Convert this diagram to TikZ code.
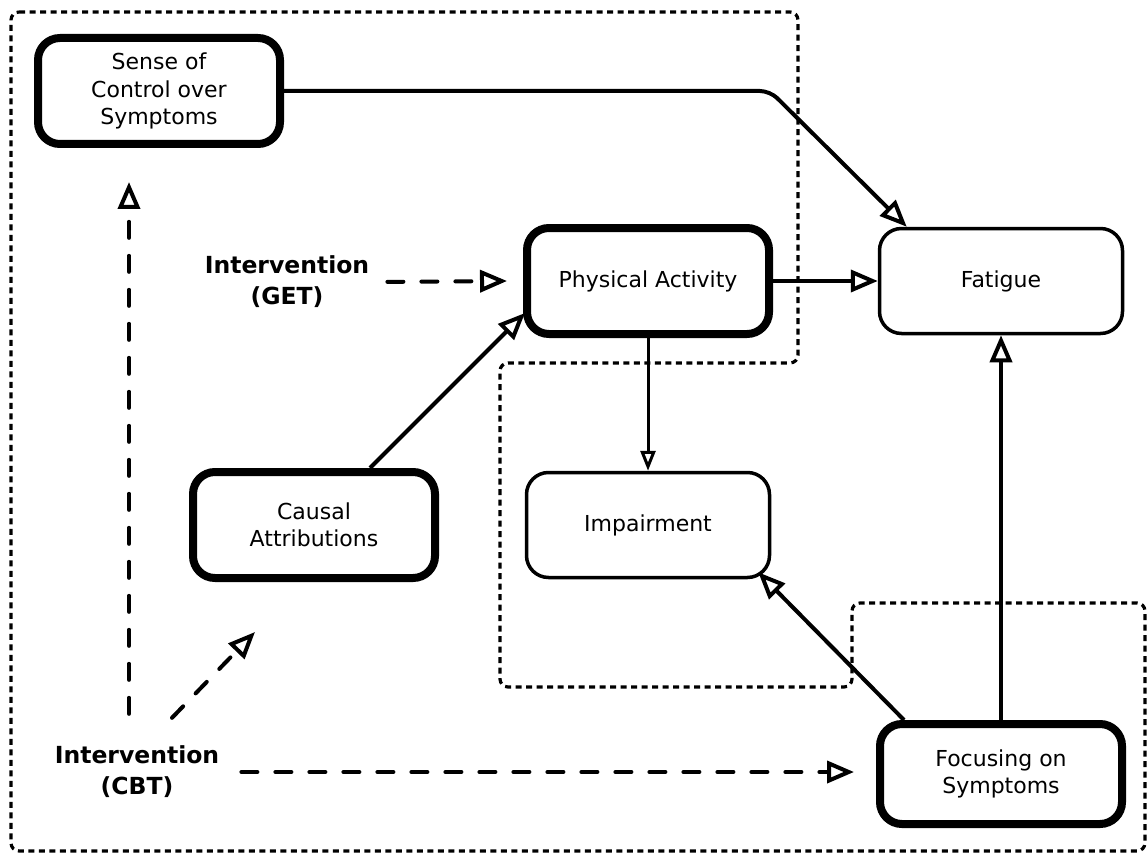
\documentclass[tikz,border=0pt]{standalone}
\usepackage{fontspec}
\setmainfont{DejaVu Sans}
\usetikzlibrary{arrows.meta}

\begin{document}
\begin{tikzpicture}[x=1pt,y=-1pt,
	box/.style={draw,rounded corners=22pt,align=center,inner sep=0pt,minimum width=242pt,minimum height=106pt,font=\fontsize{22}{27.5}\selectfont},
	heavy/.style={box,line width=8pt},
	light/.style={box,line width=3.5pt,minimum width=243pt,minimum height=105pt},
	lab/.style={align=center,inner sep=0pt,font=\bfseries\fontsize{23.5}{31}\selectfont},
	link/.style={line width=4pt,-{Triangle[open,length=27pt,width=22pt]}},
	intv/.style={link,dash pattern=on 16pt off 18pt,line cap=round},
	region/.style={line width=3.2pt,dash pattern=on 6pt off 4.5pt,rounded corners=8pt}]
\useasboundingbox (0,0) rectangle (1148,853);
\draw[region] (11,12)--(798,12)--(798,363)--(500,363)--(500,687)--(852,687)--(852,603)--(1145,603)--(1145,851)--(11,851)--cycle;
\node[heavy] (sc) at (159,91){Sense of\\Control over\\Symptoms};
\node[heavy] (pa) at (648,281){Physical Activity};
\node[light] (fat) at (1001,281){Fatigue};
\node[heavy] (ca) at (314,525){Causal\\Attributions};
\node[light] (imp) at (648,525){Impairment};
\node[heavy,minimum height=100pt] (foc) at (1001,774){Focusing on\\Symptoms};
\node[lab] (get) at (287,282){Intervention\\(GET)};
\node[lab] (cbt) at (137,772){Intervention\\(CBT)};
\coordinate (bend) at (770,91);
\draw[link,rounded corners=10pt] (sc.east)--(bend)--([xshift=29pt]fat.north west);
\draw[link] (pa.east)--(fat.west);
\draw[line width=3pt,-{Triangle[open,length=20pt,width=15pt]}] (pa.south)--(imp.north);
\draw[link] ([xshift=56pt]ca.north)--([xshift=2pt,yshift=25pt]pa.south west);
\draw[link] (foc.north)--(fat.south);
\draw[link] ([xshift=28pt]foc.north west)--([xshift=-13pt,yshift=7pt]imp.south east);
% interventions
\draw[intv,shorten <=18pt] (get.east)--([xshift=-16pt]pa.west);
\draw[intv,shorten <=22pt,shorten >=22pt] (cbt.east)--(cbt.east -| foc.west);
\draw[intv] ([xshift=-8pt,yshift=32pt]cbt.north)--([xshift=-30pt,yshift=-34pt]sc.south);
\draw[intv] ([xshift=35pt,yshift=28pt]cbt.north)--([xshift=66pt,yshift=-50pt]ca.south west);
\end{tikzpicture}
\end{document}
